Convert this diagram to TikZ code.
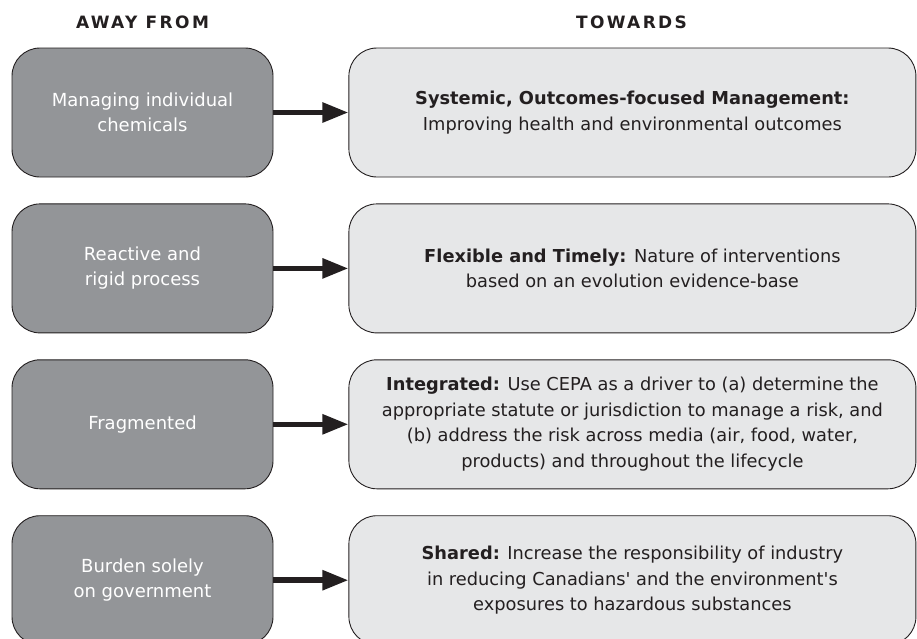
\documentclass[tikz,border=0pt]{standalone}
\usepackage{fontspec}
\setmainfont{DejaVu Sans}
\usetikzlibrary{positioning, arrows.meta}
\definecolor{awaygray}{HTML}{939598}
\definecolor{towardgray}{HTML}{E6E7E8}
\definecolor{edgeblack}{HTML}{231F20}

\begin{document}
\begin{tikzpicture}[x=1pt,y=1pt,
    away/.style={draw=edgeblack, line width=0.9pt, fill=awaygray, rounded corners=28pt,
                 minimum width=261pt, minimum height=129pt, align=center, inner sep=0pt,
                 text=white, font=\fontsize{18}{25}\selectfont},
    towards/.style={draw=edgeblack, line width=0.9pt, fill=towardgray, rounded corners=28pt,
                 minimum width=567pt, minimum height=129pt, align=center, inner sep=0pt,
                 text=edgeblack, font=\fontsize{17.8}{25.5}\selectfont},
    head/.style={font=\fontsize{17}{20}\bfseries\addfontfeatures{LetterSpace=14}, text=edgeblack},
    move/.style={-{Triangle[length=26pt,width=19pt]}, line width=5.5pt, edgeblack}]
                    \clip (0,0) rectangle (917,-638);
                    \node[away] (a1) at (142.5,-112.5) {Managing individual\\chemicals};
                    \node[towards] (t1) [right=75pt of a1] {\textbf{Systemic, Outcomes-focused Management:}\\Improving health and environmental outcomes};
                    \node[away] (a2) [below=26pt of a1] {Reactive and\\rigid process};
                    \node[towards] (t2) [right=75pt of a2] {\textbf{Flexible and Timely:} Nature of interventions\\based on an evolution evidence-base};
                    \node[away] (a3) [below=26pt of a2] {Fragmented};
                    \node[towards] (t3) [right=75pt of a3] {\textbf{Integrated:} Use CEPA as a driver to (a) determine the\\appropriate statute or jurisdiction to manage a risk, and\\(b) address the risk across media (air, food, water,\\products) and throughout the lifecycle};
                    \node[away] (a4) [below=26pt of a3] {Burden solely\\on government};
                    \node[towards] (t4) [right=75pt of a4] {\textbf{Shared:} Increase the responsibility of industry\\in reducing Canadians\textquotesingle{} and the environment\textquotesingle{}s\\exposures to hazardous substances};

                    \node[head] (h1) at (142.5,-22) {AWAY FROM};
                    \node[head] (h2) at (631.5,-22) {TOWARDS};

                    \foreach \i in {1,...,4}
                        \draw[move] (a\i) -- (t\i);
                \end{tikzpicture}
\end{document}
